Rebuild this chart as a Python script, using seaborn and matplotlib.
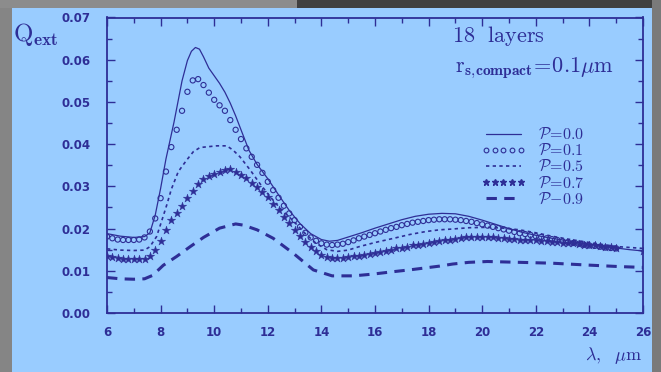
import numpy as np
import pandas as pd
import matplotlib
matplotlib.use("Agg")
import matplotlib.pyplot as plt
from matplotlib.patches import Rectangle
from matplotlib.lines import Line2D
import seaborn as sns

# ---------------- data ----------------
lam_p00 = [6.0, 6.5, 7.0, 7.4, 7.6, 7.8, 8.0, 8.2, 8.5, 8.8, 9.0, 9.15, 9.3, 9.45,
           9.6, 9.8, 10.0, 10.2, 10.4, 10.6, 10.8, 11.0, 11.3, 11.6, 12.0, 12.4,
           12.8, 13.2, 13.6, 14.0, 14.3, 14.6, 15.0, 15.5, 16.0, 16.5, 17.0, 17.5,
           18.0, 18.5, 19.0, 19.5, 20.0, 20.5, 21.0, 21.5, 22.0, 22.5, 23.0, 23.5,
           24.0, 24.5, 25.0, 25.5, 26.0]
q_p00 = [0.0188, 0.0182, 0.0179, 0.0181, 0.0190, 0.0232, 0.0295, 0.0365, 0.0452,
         0.0550, 0.0598, 0.0620, 0.0629, 0.0625, 0.0607, 0.0580, 0.0562, 0.0544,
         0.0523, 0.0497, 0.0467, 0.0434, 0.0385, 0.0352, 0.0318, 0.0280, 0.0243,
         0.0212, 0.0188, 0.0174, 0.0170, 0.0172, 0.0180, 0.0190, 0.0201, 0.0211,
         0.0221, 0.0229, 0.0234, 0.0236, 0.0235, 0.0229, 0.0220, 0.0210, 0.0200,
         0.0191, 0.0184, 0.0178, 0.0173, 0.0168, 0.0163, 0.0158, 0.0154, 0.0150,
         0.0147]

lam_p01 = [round(6.0 + 0.2 * i, 1) for i in range(96)]
q_p01 = [0.0181, 0.0177, 0.0174, 0.0173, 0.0173, 0.0173, 0.0174, 0.0179, 0.0193, 0.0224,
         0.0272, 0.0335, 0.0393, 0.0434, 0.0479, 0.0524, 0.0551, 0.0554, 0.0540, 0.0522,
         0.0505, 0.0492, 0.0479, 0.0457, 0.0434, 0.0412, 0.0390, 0.0370, 0.0351, 0.0332,
         0.0311, 0.0291, 0.0273, 0.0254, 0.0236, 0.0220, 0.0204, 0.0190, 0.0179, 0.0171,
         0.0165, 0.0162, 0.0161, 0.0162, 0.0164, 0.0168, 0.0172, 0.0177, 0.0181, 0.0185,
         0.0189, 0.0193, 0.0197, 0.0201, 0.0204, 0.0208, 0.0211, 0.0214, 0.0216, 0.0218,
         0.0220, 0.0221, 0.0222, 0.0222, 0.0222, 0.0221, 0.0220, 0.0218, 0.0216, 0.0213,
         0.0210, 0.0207, 0.0204, 0.0201, 0.0198, 0.0195, 0.0192, 0.0189, 0.0187, 0.0185,
         0.0182, 0.0180, 0.0177, 0.0175, 0.0173, 0.0170, 0.0168, 0.0166, 0.0164, 0.0162,
         0.0160, 0.0159, 0.0157, 0.0155, 0.0154, 0.0153]

lam_p05 = [6.0, 6.5, 7.0, 7.4, 7.6, 7.85, 8.04, 8.23, 8.4, 8.66, 8.97, 9.22, 9.47,
           9.78, 10.1, 10.47, 10.7, 10.96, 11.34, 11.7, 12.08, 12.46, 12.95, 13.4,
           13.8, 14.2, 14.6, 15.0, 15.4, 16.0, 16.7, 17.3, 17.9, 18.4, 18.9, 19.5,
           20.2, 20.8, 21.4, 22.0, 22.6, 23.2, 23.8, 24.4, 25.1, 26.0]
q_p05 = [0.0152, 0.0149, 0.0148, 0.0149, 0.0157, 0.0181, 0.0218, 0.0256, 0.0293,
         0.0335, 0.0362, 0.0382, 0.0392, 0.0394, 0.0396, 0.0396, 0.0386, 0.0370,
         0.0339, 0.0307, 0.0276, 0.0248, 0.0218, 0.0188, 0.0165, 0.0150, 0.0146,
         0.0149, 0.0157, 0.0167, 0.0177, 0.0186, 0.0193, 0.0197, 0.0199, 0.0202,
         0.0203, 0.0201, 0.0197, 0.0190, 0.0182, 0.0175, 0.0169, 0.0163, 0.0157,
         0.0153]

lam_p07 = [round(6.0 + 0.2 * i, 1) for i in range(96)] + [26.0]
q_p07 = [0.0134, 0.0132, 0.0130, 0.0129, 0.0128, 0.0128, 0.0128, 0.0129, 0.0135, 0.0149,
         0.0171, 0.0197, 0.0220, 0.0238, 0.0253, 0.0272, 0.0290, 0.0305, 0.0317, 0.0325,
         0.0329, 0.0334, 0.0339, 0.0340, 0.0334, 0.0328, 0.0319, 0.0309, 0.0299, 0.0287,
         0.0274, 0.0258, 0.0244, 0.0228, 0.0213, 0.0197, 0.0182, 0.0169, 0.0157, 0.0146,
         0.0138, 0.0133, 0.0131, 0.0130, 0.0131, 0.0133, 0.0134, 0.0136, 0.0138, 0.0140,
         0.0143, 0.0145, 0.0148, 0.0150, 0.0153, 0.0155, 0.0157, 0.0160, 0.0162, 0.0164,
         0.0166, 0.0168, 0.0170, 0.0172, 0.0174, 0.0176, 0.0178, 0.0179, 0.0180, 0.0181,
         0.0181, 0.0180, 0.0179, 0.0178, 0.0177, 0.0176, 0.0175, 0.0174, 0.0173, 0.0173,
         0.0172, 0.0171, 0.0170, 0.0169, 0.0168, 0.0167, 0.0166, 0.0165, 0.0163, 0.0162,
         0.0161, 0.0160, 0.0158, 0.0157, 0.0156, 0.0155, 0.0148]

lam_p09 = [6.0, 6.5, 7.0, 7.4, 7.7, 8.1, 8.6, 9.1, 9.6, 10.2, 10.8, 11.1, 11.6, 12.2,
           12.96, 13.7, 14.4, 15.2, 15.9, 16.7, 17.4, 18.4, 18.9, 19.5, 20.2, 20.8,
           21.4, 22.6, 23.8, 25.1, 26.0]
q_p09 = [0.0084, 0.0081, 0.0080, 0.0081, 0.0089, 0.0113, 0.0134, 0.0157, 0.0179,
         0.0201, 0.0211, 0.0208, 0.0197, 0.0177, 0.0141, 0.0102, 0.0088, 0.0088,
         0.0092, 0.0098, 0.0103, 0.0111, 0.0116, 0.0120, 0.0122, 0.0121, 0.0120,
         0.0118, 0.0114, 0.0110, 0.0108]

legend_labels = [r"$\mathcal{P}\!=\!0.0$", r"$\mathcal{P}\!=\!0.1$", r"$\mathcal{P}\!=\!0.5$",
                 r"$\mathcal{P}\!=\!0.7$", r"$\mathcal{P}\!-\!0.9$"]
x_ticks = [6, 8, 10, 12, 14, 16, 18, 20, 22, 24, 26]
y_ticks = [0.00, 0.01, 0.02, 0.03, 0.04, 0.05, 0.06, 0.07]

# ---------------- style ----------------
sns.set_theme(style="ticks")
plt.rcParams["font.family"] = ["DejaVu Sans"]
plt.rcParams["mathtext.fontset"] = "cm"

BG = "#99ccff"
INK = "#2e2e96"

fig = plt.figure(figsize=(6.61, 3.72), dpi=100)
fig.patch.set_facecolor(BG)

# frame strips around the picture
fig.add_artist(Rectangle((0, 0), 12 / 661, 1, transform=fig.transFigure,
                         facecolor="#858585", edgecolor="none", zorder=0))
fig.add_artist(Rectangle((0, 1 - 8 / 372), 0.45, 8 / 372, transform=fig.transFigure,
                         facecolor="#8c8c8c", edgecolor="none", zorder=0))
fig.add_artist(Rectangle((0.45, 1 - 8 / 372), 0.55, 8 / 372, transform=fig.transFigure,
                         facecolor="#404040", edgecolor="none", zorder=0))
fig.add_artist(Rectangle((652 / 661, 0), 9 / 661, 1, transform=fig.transFigure,
                         facecolor="#7a7a7a", edgecolor="none", zorder=0))

ax = fig.add_axes([107 / 661, 1 - 313 / 372, (643 - 107) / 661, (313 - 17.5) / 372])
ax.set_facecolor(BG)

d00 = pd.DataFrame({"lam": lam_p00, "q": q_p00})
d01 = pd.DataFrame({"lam": lam_p01, "q": q_p01})
d05 = pd.DataFrame({"lam": lam_p05, "q": q_p05})
d07 = pd.DataFrame({"lam": lam_p07, "q": q_p07})
d09 = pd.DataFrame({"lam": lam_p09, "q": q_p09})

sns.lineplot(data=d00, x="lam", y="q", ax=ax, color=INK, lw=0.9, sort=False, legend=False)
sns.scatterplot(data=d01, x="lam", y="q", ax=ax, marker="o", s=14, facecolor="none",
                edgecolor=INK, linewidth=0.8, legend=False)
sns.lineplot(data=d05, x="lam", y="q", ax=ax, color=INK, lw=1.2, sort=False, legend=False)
ax.lines[-1].set_dashes((2, 2))
sns.scatterplot(data=d07, x="lam", y="q", ax=ax, marker="*", s=40, color=INK,
                edgecolor=INK, linewidth=0.3, legend=False)
sns.lineplot(data=d09, x="lam", y="q", ax=ax, color=INK, lw=2.2, sort=False, legend=False)
ax.lines[-1].set_dashes((3.4, 2.4))

ax.set_xlim(6, 26)
ax.set_ylim(0, 0.07)
ax.set_xticks(x_ticks)
ax.set_yticks(y_ticks)
ax.set_xticklabels([str(t) for t in x_ticks])
ax.set_yticklabels([f"{t:.2f}" for t in y_ticks])
ax.set_xticks(np.arange(6, 27, 1), minor=True)
ax.set_yticks(np.arange(0, 0.0701, 0.005), minor=True)
ax.set_xlabel("")
ax.set_ylabel("")
for sp in ax.spines.values():
    sp.set_visible(True)
    sp.set_color(INK)
    sp.set_linewidth(1.3)
ax.tick_params(which="both", direction="in", top=True, right=True, color=INK,
               labelcolor=INK, width=1.0)
ax.tick_params(which="major", length=6)
ax.tick_params(which="minor", length=3.5)
ax.tick_params(axis="y", pad=12)
ax.tick_params(axis="x", pad=9)
for lab in ax.get_xticklabels() + ax.get_yticklabels():
    lab.set_fontweight("bold")
    lab.set_fontsize(8.5)

# legend
handles = [
    Line2D([], [], color=INK, lw=0.9),
    Line2D([], [], color=INK, ls="none", marker="o", ms=3.4, mfc="none", mew=0.8),
    Line2D([], [], color=INK, lw=1.2, dashes=(2, 2)),
    Line2D([], [], color=INK, ls="none", marker="*", ms=5),
    Line2D([], [], color=INK, lw=2.2, dashes=(3.4, 2.4)),
]
leg = ax.legend(handles, legend_labels, loc="upper left",
                bbox_to_anchor=(481 / 661, 1 - 127 / 372), bbox_transform=fig.transFigure,
                frameon=False, numpoints=5, handlelength=2.8, handletextpad=0.75,
                labelspacing=0.05, borderpad=0, borderaxespad=0, fontsize=11.5)
for t in leg.get_texts():
    t.set_color(INK)

# annotations
fig.text(452 / 661, 1 - 36 / 372, r"$\mathrm{18\ \ layers}$", color=INK, fontsize=16,
         va="center", ha="left")
fig.text(455 / 661, 1 - 68 / 372,
         r"$\mathrm{r}_{\mathbf{s{,}compact}}\!=\!0.1\mu\mathrm{m}$",
         color=INK, fontsize=16, va="center", ha="left")
fig.text(13 / 661, 1 - 35 / 372, r"$\mathrm{Q}_{\mathbf{ext}}$", color=INK, fontsize=18,
         va="center", ha="left")
fig.text(585 / 661, 1 - 356 / 372, r"$\lambda,\ \ \mu\mathrm{m}$", color=INK, fontsize=13,
         va="center", ha="left")

fig.savefig("out.png", dpi=100, facecolor=BG)
